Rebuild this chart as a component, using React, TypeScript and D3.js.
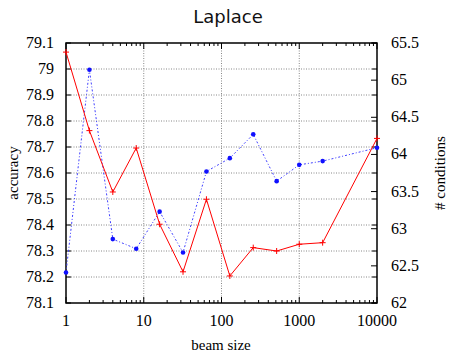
import * as d3 from 'd3'

const beamSizes = [1, 2, 4, 8, 16, 32, 64, 128, 256, 512, 1000, 2000, 10000]
const accuracy = [79.065, 78.763, 78.527, 78.696, 78.403, 78.22, 78.499, 78.204, 78.313, 78.3, 78.326, 78.332, 78.733]
const conditions = [62.41, 65.14, 62.86, 62.73, 63.23, 62.68, 63.77, 63.95, 64.27, 63.64, 63.86, 63.91, 64.09]
const leftTicks = [78.1, 78.2, 78.3, 78.4, 78.5, 78.6, 78.7, 78.8, 78.9, 79, 79.1]
const rightTicks = [62, 62.5, 63, 63.5, 64, 64.5, 65, 65.5]
const xTicks = [1, 10, 100, 1000, 10000]

export default function App() {
  const width = 451
  const height = 353
  const left = 66
  const right = 377
  const top = 43
  const bottom = 303

  const x = d3.scaleLog().domain([1, 10000]).range([left, right])
  const yL = d3.scaleLinear().domain([78.1, 79.1]).range([bottom, top])
  const yR = d3.scaleLinear().domain([62, 65.5]).range([bottom, top])

  // log minor ticks 2..9 in each decade
  const minorX: number[] = []
  for (let d = 1; d < 10000; d *= 10) {
    for (let k = 2; k <= 9; k++) minorX.push(d * k)
  }

  const redLine = d3.line<number>()
    .x((_, i) => x(beamSizes[i]))
    .y(d => yL(d))
  const blueLine = d3.line<number>()
    .x((_, i) => x(beamSizes[i]))
    .y(d => yR(d))

  const serif = { fontFamily: 'Liberation Serif, Times New Roman, serif' }
  const fmt = d3.format('~g')

  return (
    <svg width={width} height={height} style={{ position: 'absolute', left: 0, top: 0, background: '#fff' }}>
      <text x={228} y={23} textAnchor="middle" style={{ fontFamily: 'DejaVu Sans, sans-serif' }} fontSize={18} fill="#111">Laplace</text>

      {/* grid */}
      {leftTicks.slice(1, -1).map(t => (
        <line key={'gy' + t} x1={left} x2={right} y1={yL(t)} y2={yL(t)} stroke="#888" strokeWidth={1} strokeDasharray="1,1.5" />
      ))}
      {xTicks.slice(1, -1).map(t => (
        <line key={'gx' + t} x1={x(t)} x2={x(t)} y1={top} y2={bottom} stroke="#888" strokeWidth={1} strokeDasharray="1,1.5" />
      ))}

      {/* x ticks */}
      {xTicks.map(t => (
        <g key={'xt' + t}>
          <line x1={x(t)} x2={x(t)} y1={bottom} y2={bottom - 6} stroke="#000" />
          <line x1={x(t)} x2={x(t)} y1={top} y2={top + 6} stroke="#000" />
          <text x={x(t)} y={326} textAnchor="middle" style={serif} fontSize={16} fill="#000">{t}</text>
        </g>
      ))}
      {minorX.map(t => (
        <g key={'xm' + t}>
          <line x1={x(t)} x2={x(t)} y1={bottom} y2={bottom - 3} stroke="#000" />
          <line x1={x(t)} x2={x(t)} y1={top} y2={top + 3} stroke="#000" />
        </g>
      ))}

      {/* left ticks, mirrored on right border */}
      {leftTicks.map(t => (
        <g key={'yl' + t}>
          <line x1={left} x2={left + 5} y1={yL(t)} y2={yL(t)} stroke="#000" />
          <line x1={right} x2={right - 5} y1={yL(t)} y2={yL(t)} stroke="#000" />
          <text x={54} y={yL(t) + 5} textAnchor="end" style={serif} fontSize={16} fill="#000">{fmt(t)}</text>
        </g>
      ))}
      {/* right ticks */}
      {rightTicks.map(t => (
        <g key={'yr' + t}>
          <line x1={right} x2={right - 6} y1={yR(t)} y2={yR(t)} stroke="#000" />
          <text x={391} y={yR(t) + 5} textAnchor="start" style={serif} fontSize={16} fill="#000">{fmt(t)}</text>
        </g>
      ))}

      <rect x={left} y={top} width={right - left} height={bottom - top} fill="none" stroke="#000" strokeWidth={1.5} />

      {/* blue series */}
      <path d={blueLine(conditions) ?? ''} fill="none" stroke="#4040ff" strokeWidth={1} strokeDasharray="2,2,1,2" />
      {conditions.map((v, i) => (
        <circle key={'bc' + i} cx={x(beamSizes[i])} cy={yR(v)} r={2.3} fill="#1010ff" />
      ))}

      {/* red series */}
      <path d={redLine(accuracy) ?? ''} fill="none" stroke="#ff0000" strokeWidth={1} />
      {accuracy.map((v, i) => {
        const cx = x(beamSizes[i])
        const cy = yL(v)
        return (
          <g key={'rp' + i} stroke="#ff0000" strokeWidth={1}>
            <line x1={cx - 3} x2={cx + 3} y1={cy} y2={cy} />
            <line x1={cx} x2={cx} y1={cy - 3} y2={cy + 3} />
          </g>
        )
      })}

      <text transform="translate(18,173) rotate(-90)" textAnchor="middle" style={serif} fontSize={15} fill="#000">accuracy</text>
      <text transform="translate(445,173) rotate(-90)" textAnchor="middle" style={serif} fontSize={15} fill="#000"># conditions</text>
      <text x={221} y={350} textAnchor="middle" style={serif} fontSize={15} fill="#000">beam size</text>
    </svg>
  )
}
